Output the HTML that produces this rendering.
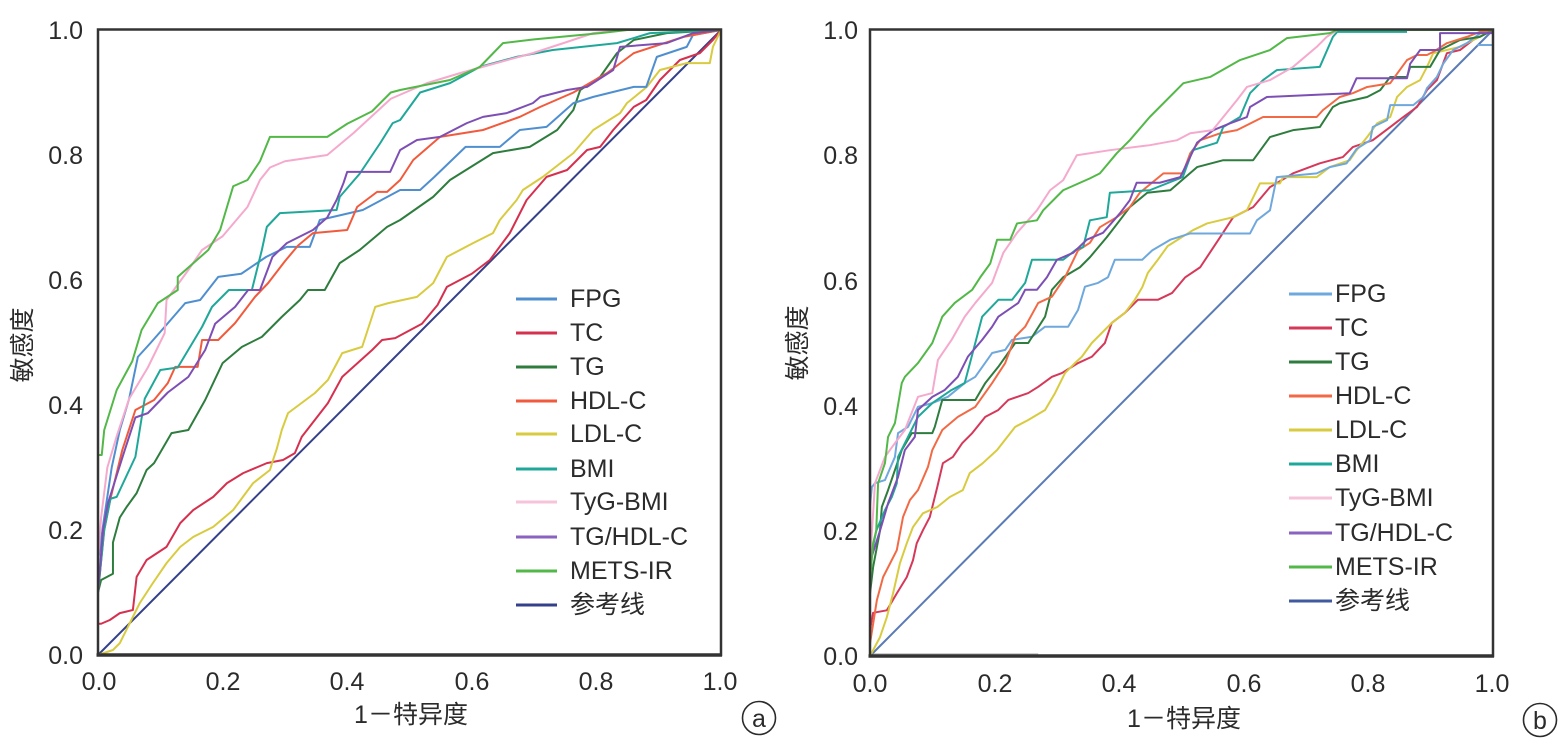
<!DOCTYPE html>
<html>
<head>
<meta charset="utf-8">
<style>
html,body{margin:0;padding:0;background:#fff;}
body{width:1561px;height:748px;overflow:hidden;}
svg{display:block;}
text{font-family:"Liberation Sans","Noto Sans CJK SC",sans-serif;fill:#2b2b2b;}
.c{fill:none;stroke-width:2;stroke-linejoin:round;}
</style>
</head>
<body>
<svg width="1561" height="748" viewBox="0 0 1561 748" xmlns="http://www.w3.org/2000/svg">
<rect x="0" y="0" width="1561" height="748" fill="#fff"/>

<!-- ============ LEFT PANEL ============ -->
<g transform="translate(98,655) scale(623,-625)">
  <polyline class="c" vector-effect="non-scaling-stroke" stroke="#34418a" points="0,0 1,1"/>
  <polyline class="c" vector-effect="non-scaling-stroke" stroke="#d6304f" points="0,0.05 0.005,0.05 0.019,0.056 0.035,0.067 0.056,0.072 0.062,0.125 0.078,0.152 0.11,0.173 0.132,0.211 0.153,0.232 0.185,0.253 0.207,0.275 0.233,0.291 0.271,0.307 0.297,0.312 0.316,0.323 0.327,0.349 0.369,0.403 0.392,0.445 0.44,0.488 0.456,0.504 0.477,0.507 0.52,0.53 0.545,0.56 0.56,0.589 0.6,0.61 0.629,0.632 0.661,0.675 0.688,0.728 0.72,0.765 0.753,0.776 0.785,0.808 0.806,0.813 0.827,0.84 0.86,0.877 0.88,0.888 0.902,0.92 0.934,0.952 0.966,0.963 0.987,0.984 1,1"/>
  <polyline class="c" vector-effect="non-scaling-stroke" stroke="#d9cb3f" points="0,0 0.024,0.008 0.035,0.019 0.051,0.051 0.067,0.083 0.088,0.115 0.11,0.147 0.132,0.173 0.153,0.189 0.185,0.205 0.217,0.232 0.249,0.275 0.276,0.296 0.281,0.312 0.287,0.33 0.295,0.36 0.305,0.387 0.348,0.419 0.369,0.44 0.392,0.483 0.424,0.493 0.445,0.557 0.466,0.563 0.512,0.573 0.538,0.595 0.56,0.637 0.602,0.659 0.634,0.675 0.645,0.696 0.672,0.728 0.682,0.744 0.714,0.765 0.763,0.803 0.795,0.84 0.838,0.867 0.849,0.883 0.881,0.909 0.902,0.936 0.945,0.947 0.982,0.947 0.987,0.973 1,1"/>
  <polyline class="c" vector-effect="non-scaling-stroke" stroke="#2e7d3e" points="0,0.1 0.005,0.12 0.024,0.13 0.024,0.18 0.035,0.22 0.046,0.237 0.062,0.259 0.078,0.296 0.09,0.307 0.118,0.355 0.145,0.36 0.172,0.408 0.2,0.467 0.231,0.493 0.263,0.509 0.295,0.541 0.324,0.568 0.337,0.584 0.364,0.584 0.388,0.627 0.42,0.648 0.464,0.685 0.485,0.696 0.538,0.733 0.565,0.76 0.634,0.803 0.693,0.813 0.737,0.84 0.763,0.872 0.774,0.904 0.806,0.925 0.833,0.963 0.86,0.984 0.913,0.995 1,1"/>
  <polyline class="c" vector-effect="non-scaling-stroke" stroke="#4f8fd0" points="0,0.15 0.01,0.22 0.022,0.30 0.035,0.36 0.05,0.41 0.064,0.477 0.085,0.5 0.107,0.525 0.14,0.563 0.164,0.568 0.193,0.605 0.23,0.61 0.27,0.637 0.303,0.653 0.34,0.653 0.356,0.696 0.425,0.712 0.485,0.744 0.517,0.744 0.54,0.765 0.59,0.813 0.645,0.813 0.677,0.84 0.72,0.845 0.763,0.883 0.795,0.893 0.86,0.909 0.88,0.909 0.897,0.957 0.945,0.973 0.955,0.992 1,1"/>
  <polyline class="c" vector-effect="non-scaling-stroke" stroke="#f15a3c" points="0,0.1 0.01,0.2 0.02,0.25 0.039,0.328 0.06,0.392 0.09,0.408 0.112,0.435 0.124,0.461 0.16,0.461 0.167,0.504 0.193,0.504 0.22,0.531 0.252,0.573 0.273,0.595 0.3,0.63 0.321,0.655 0.345,0.675 0.4,0.68 0.416,0.717 0.448,0.741 0.464,0.741 0.485,0.76 0.506,0.792 0.549,0.829 0.618,0.84 0.677,0.861 0.71,0.877 0.763,0.9 0.817,0.931 0.86,0.963 0.94,0.989 0.983,0.997 1,1"/>
  <polyline class="c" vector-effect="non-scaling-stroke" stroke="#1fa89a" points="0,0.1 0.01,0.2 0.02,0.25 0.03,0.253 0.06,0.317 0.075,0.41 0.1,0.456 0.128,0.46 0.167,0.525 0.183,0.557 0.21,0.584 0.247,0.584 0.263,0.648 0.271,0.685 0.292,0.707 0.383,0.712 0.388,0.733 0.42,0.77 0.453,0.819 0.473,0.851 0.485,0.856 0.517,0.9 0.565,0.915 0.613,0.941 0.672,0.957 0.73,0.968 0.833,0.979 0.886,0.995 1,1"/>
  <polyline class="c" vector-effect="non-scaling-stroke" stroke="#7d4fb5" points="0,0.1 0.008,0.2 0.016,0.243 0.043,0.328 0.06,0.38 0.08,0.387 0.112,0.42 0.145,0.445 0.172,0.488 0.188,0.53 0.22,0.557 0.241,0.584 0.26,0.584 0.28,0.637 0.303,0.659 0.345,0.68 0.368,0.7 0.383,0.728 0.394,0.755 0.4,0.773 0.469,0.773 0.485,0.808 0.512,0.824 0.549,0.829 0.592,0.851 0.618,0.861 0.656,0.867 0.698,0.883 0.71,0.893 0.753,0.904 0.785,0.909 0.827,0.936 0.838,0.973 0.913,0.979 0.955,0.995 1,1"/>
  <polyline class="c" vector-effect="non-scaling-stroke" stroke="#f5a9cd" points="0,0.15 0.005,0.22 0.015,0.3 0.03,0.35 0.05,0.41 0.08,0.46 0.107,0.515 0.11,0.568 0.145,0.616 0.167,0.648 0.2,0.67 0.24,0.717 0.26,0.76 0.276,0.78 0.3,0.79 0.368,0.8 0.41,0.835 0.47,0.89 0.528,0.915 0.581,0.931 0.65,0.95 0.698,0.963 0.75,0.98 0.795,0.995 0.84,1 1,1"/>
  <polyline class="c" vector-effect="non-scaling-stroke" stroke="#52b848" points="0,0.2 0,0.32 0.006,0.32 0.01,0.36 0.03,0.424 0.055,0.47 0.07,0.52 0.096,0.563 0.128,0.584 0.128,0.605 0.177,0.648 0.196,0.68 0.217,0.75 0.24,0.76 0.26,0.79 0.276,0.829 0.368,0.829 0.4,0.85 0.44,0.87 0.47,0.9 0.485,0.904 0.565,0.92 0.613,0.941 0.65,0.979 0.7,0.985 0.806,0.995 0.85,1 1,1"/>
</g>
<!-- frame left -->
<rect x="98" y="29.5" width="623" height="625.5" fill="none" stroke="#333" stroke-width="2.5"/>
<line x1="96.5" y1="655" x2="722" y2="655" stroke="#333" stroke-width="3.5"/>

<!-- left y ticks -->
<g font-size="25" text-anchor="end">
  <text x="83" y="39">1.0</text>
  <text x="83" y="164">0.8</text>
  <text x="83" y="289">0.6</text>
  <text x="83" y="414">0.4</text>
  <text x="83" y="539">0.2</text>
  <text x="83" y="664">0.0</text>
</g>
<!-- left x ticks -->
<g font-size="25" text-anchor="middle">
  <text x="99" y="690">0.0</text>
  <text x="223" y="690">0.2</text>
  <text x="347" y="690">0.4</text>
  <text x="472" y="690">0.6</text>
  <text x="596" y="690">0.8</text>
  <text x="720" y="690">1.0</text>
</g>
<text x="411" y="723" font-size="25" text-anchor="middle">1－特异度</text>
<text transform="translate(31,345) rotate(-90)" font-size="25" text-anchor="middle">敏感度</text>

<!-- left legend -->
<g stroke-width="3">
  <line x1="516" y1="299" x2="557" y2="299" stroke="#4f8fd0"/>
  <line x1="516" y1="333" x2="557" y2="333" stroke="#d6304f"/>
  <line x1="516" y1="367" x2="557" y2="367" stroke="#2e7d3e"/>
  <line x1="516" y1="401" x2="557" y2="401" stroke="#f15a3c"/>
  <line x1="516" y1="434" x2="557" y2="434" stroke="#d9cb3f"/>
  <line x1="516" y1="469" x2="557" y2="469" stroke="#1fa89a"/>
  <line x1="516" y1="502" x2="557" y2="502" stroke="#f5c3da"/>
  <line x1="516" y1="537" x2="557" y2="537" stroke="#8a62c0"/>
  <line x1="516" y1="571" x2="557" y2="571" stroke="#52b848"/>
  <line x1="516" y1="605" x2="557" y2="605" stroke="#34418a"/>
</g>
<g font-size="25">
  <text x="570" y="307">FPG</text>
  <text x="570" y="341">TC</text>
  <text x="570" y="375">TG</text>
  <text x="570" y="409">HDL-C</text>
  <text x="570" y="442">LDL-C</text>
  <text x="570" y="477">BMI</text>
  <text x="570" y="510">TyG-BMI</text>
  <text x="570" y="545">TG/HDL-C</text>
  <text x="570" y="579">METS-IR</text>
  <text x="570" y="613">参考线</text>
</g>
<circle cx="759" cy="718" r="16.5" fill="none" stroke="#2b2b2b" stroke-width="1.6"/>
<text x="759" y="727" font-size="25" text-anchor="middle">a</text>

<!-- ============ RIGHT PANEL ============ -->
<g transform="translate(870,656) scale(623,-626)">
  <polyline class="c" vector-effect="non-scaling-stroke" stroke="#c8c8c8" points="0,0.003 0.27,0.003"/>
  <polyline class="c" vector-effect="non-scaling-stroke" stroke="#5a7bb5" points="0,0 1,1"/>
  <polyline class="c" vector-effect="non-scaling-stroke" stroke="#d6385a" points="0,0.02 0,0.042 0.005,0.069 0.027,0.073 0.043,0.1 0.059,0.126 0.069,0.153 0.075,0.18 0.085,0.201 0.096,0.222 0.108,0.27 0.117,0.308 0.133,0.318 0.148,0.34 0.164,0.356 0.185,0.382 0.206,0.393 0.222,0.409 0.254,0.42 0.27,0.43 0.292,0.446 0.308,0.452 0.334,0.468 0.356,0.478 0.377,0.5 0.388,0.532 0.409,0.548 0.43,0.569 0.462,0.569 0.485,0.58 0.506,0.605 0.53,0.621 0.562,0.669 0.583,0.701 0.615,0.717 0.642,0.749 0.679,0.771 0.722,0.787 0.759,0.797 0.775,0.813 0.807,0.824 0.835,0.845 0.856,0.861 0.878,0.877 0.894,0.904 0.91,0.92 0.926,0.963 0.947,0.968 0.968,0.984 1,1"/>
  <polyline class="c" vector-effect="non-scaling-stroke" stroke="#d9cb3f" points="0,0 0.016,0.03 0.027,0.062 0.037,0.1 0.048,0.148 0.059,0.18 0.069,0.206 0.085,0.228 0.108,0.238 0.128,0.254 0.149,0.265 0.16,0.292 0.181,0.308 0.204,0.329 0.233,0.366 0.254,0.377 0.281,0.393 0.297,0.42 0.313,0.452 0.329,0.468 0.34,0.478 0.356,0.5 0.366,0.51 0.388,0.532 0.409,0.548 0.425,0.569 0.437,0.589 0.446,0.612 0.462,0.633 0.478,0.655 0.518,0.68 0.541,0.691 0.583,0.701 0.605,0.712 0.626,0.755 0.658,0.755 0.663,0.765 0.717,0.765 0.738,0.781 0.77,0.792 0.781,0.808 0.798,0.829 0.814,0.851 0.835,0.861 0.846,0.893 0.862,0.909 0.883,0.92 0.894,0.941 0.904,0.963 0.947,0.973 0.968,0.984 1,1"/>
  <polyline class="c" vector-effect="non-scaling-stroke" stroke="#6fa8dc" points="0,0.24 0.003,0.27 0.008,0.276 0.024,0.281 0.04,0.318 0.045,0.356 0.061,0.366 0.077,0.398 0.1,0.404 0.125,0.414 0.152,0.436 0.169,0.446 0.196,0.484 0.217,0.489 0.228,0.505 0.26,0.51 0.281,0.526 0.318,0.526 0.334,0.553 0.345,0.59 0.366,0.596 0.382,0.605 0.393,0.633 0.437,0.633 0.453,0.648 0.482,0.665 0.514,0.675 0.61,0.675 0.621,0.696 0.642,0.712 0.653,0.765 0.717,0.771 0.738,0.781 0.765,0.787 0.781,0.81 0.803,0.824 0.807,0.845 0.83,0.856 0.835,0.88 0.872,0.88 0.888,0.893 0.894,0.907 0.91,0.925 0.92,0.946 0.936,0.968 0.958,0.979 0.98,0.995 1,1"/>
  <polyline class="c" vector-effect="non-scaling-stroke" stroke="#6fa8dc" points="0.975,0.976 1,0.976"/>
  <polyline class="c" vector-effect="non-scaling-stroke" stroke="#2e7d3e" points="0,0.1 0.005,0.142 0.016,0.2 0.019,0.238 0.029,0.265 0.04,0.297 0.051,0.329 0.067,0.356 0.1,0.356 0.104,0.366 0.116,0.409 0.169,0.409 0.185,0.436 0.206,0.462 0.233,0.5 0.254,0.5 0.281,0.542 0.292,0.585 0.31,0.605 0.337,0.621 0.353,0.637 0.38,0.669 0.401,0.696 0.417,0.717 0.445,0.74 0.482,0.744 0.525,0.781 0.567,0.792 0.615,0.792 0.642,0.829 0.679,0.84 0.722,0.845 0.743,0.877 0.754,0.883 0.798,0.893 0.819,0.904 0.835,0.925 0.862,0.925 0.867,0.941 0.899,0.941 0.915,0.968 0.947,0.984 0.979,0.989 1,1"/>
  <polyline class="c" vector-effect="non-scaling-stroke" stroke="#f26a45" points="0,0.02 0.011,0.089 0.021,0.126 0.043,0.169 0.053,0.222 0.064,0.249 0.077,0.265 0.093,0.302 0.1,0.329 0.116,0.361 0.141,0.382 0.169,0.398 0.196,0.436 0.217,0.468 0.233,0.51 0.249,0.526 0.27,0.564 0.292,0.574 0.313,0.605 0.334,0.648 0.353,0.66 0.369,0.685 0.396,0.701 0.417,0.717 0.433,0.74 0.471,0.771 0.502,0.771 0.514,0.803 0.53,0.824 0.562,0.835 0.589,0.84 0.631,0.861 0.717,0.861 0.727,0.872 0.754,0.893 0.775,0.899 0.798,0.909 0.835,0.915 0.862,0.952 0.878,0.96 0.894,0.96 0.904,0.965 0.926,0.979 0.958,0.989 0.979,0.997 1,1"/>
  <polyline class="c" vector-effect="non-scaling-stroke" stroke="#1fa89a" points="0,0.15 0.01,0.2 0.024,0.233 0.035,0.254 0.043,0.276 0.045,0.318 0.061,0.35 0.077,0.382 0.1,0.404 0.131,0.425 0.152,0.436 0.169,0.5 0.18,0.542 0.206,0.569 0.228,0.569 0.249,0.596 0.26,0.633 0.31,0.633 0.332,0.65 0.342,0.653 0.353,0.696 0.38,0.701 0.385,0.74 0.449,0.744 0.502,0.765 0.518,0.808 0.557,0.82 0.567,0.845 0.594,0.861 0.61,0.899 0.631,0.92 0.653,0.936 0.722,0.941 0.743,0.989 0.75,0.997 0.862,0.997"/>
  <polyline class="c" vector-effect="non-scaling-stroke" stroke="#7d4fb5" points="0,0.15 0.016,0.2 0.029,0.244 0.045,0.286 0.056,0.329 0.072,0.35 0.077,0.393 0.1,0.414 0.12,0.425 0.141,0.446 0.157,0.478 0.18,0.505 0.196,0.526 0.206,0.542 0.238,0.564 0.249,0.585 0.268,0.585 0.284,0.605 0.3,0.633 0.326,0.644 0.348,0.665 0.374,0.676 0.401,0.707 0.417,0.728 0.428,0.756 0.465,0.756 0.498,0.765 0.525,0.82 0.551,0.84 0.578,0.851 0.605,0.861 0.61,0.877 0.637,0.893 0.77,0.899 0.781,0.923 0.862,0.923 0.867,0.946 0.883,0.968 0.915,0.968 0.915,0.995 1,0.995 1,1"/>
  <polyline class="c" vector-effect="non-scaling-stroke" stroke="#f5a9cd" points="0,0.15 0.008,0.276 0.024,0.318 0.04,0.34 0.056,0.361 0.077,0.414 0.1,0.42 0.109,0.473 0.131,0.505 0.152,0.542 0.169,0.564 0.196,0.596 0.214,0.644 0.236,0.676 0.268,0.712 0.289,0.744 0.31,0.76 0.332,0.8 0.385,0.808 0.449,0.816 0.493,0.824 0.514,0.835 0.55,0.84 0.589,0.888 0.605,0.909 0.642,0.92 0.679,0.941 0.717,0.973 0.733,0.989 0.75,1 1,1"/>
  <polyline class="c" vector-effect="non-scaling-stroke" stroke="#52b848" points="0,0.12 0.005,0.18 0.01,0.2 0.013,0.276 0.024,0.308 0.029,0.35 0.04,0.372 0.051,0.436 0.056,0.446 0.077,0.468 0.1,0.5 0.116,0.542 0.136,0.564 0.164,0.585 0.177,0.605 0.193,0.627 0.204,0.665 0.225,0.665 0.236,0.691 0.268,0.696 0.278,0.712 0.31,0.744 0.353,0.763 0.369,0.771 0.396,0.803 0.417,0.824 0.449,0.861 0.503,0.915 0.546,0.925 0.594,0.952 0.642,0.968 0.669,0.987 0.738,0.995 0.75,1 1,1"/>
</g>
<!-- frame right -->
<rect x="870" y="29.5" width="623" height="626.5" fill="none" stroke="#333" stroke-width="2.5"/>
<line x1="868.5" y1="656" x2="1494" y2="656" stroke="#333" stroke-width="3.5"/>

<!-- right y ticks -->
<g font-size="25" text-anchor="end">
  <text x="858" y="39">1.0</text>
  <text x="858" y="164">0.8</text>
  <text x="858" y="290">0.6</text>
  <text x="858" y="415">0.4</text>
  <text x="858" y="540">0.2</text>
  <text x="858" y="665">0.0</text>
</g>
<g font-size="25" text-anchor="middle">
  <text x="870" y="692">0.0</text>
  <text x="995" y="692">0.2</text>
  <text x="1119" y="692">0.4</text>
  <text x="1244" y="692">0.6</text>
  <text x="1368" y="692">0.8</text>
  <text x="1492" y="692">1.0</text>
</g>
<text x="1184" y="727" font-size="25" text-anchor="middle">1－特异度</text>
<text transform="translate(806,343) rotate(-90)" font-size="25" text-anchor="middle">敏感度</text>

<!-- right legend -->
<g stroke-width="3">
  <line x1="1289" y1="294" x2="1332" y2="294" stroke="#6fa8dc"/>
  <line x1="1289" y1="328" x2="1332" y2="328" stroke="#d6385a"/>
  <line x1="1289" y1="362" x2="1332" y2="362" stroke="#2e7d3e"/>
  <line x1="1289" y1="396" x2="1332" y2="396" stroke="#f26a45"/>
  <line x1="1289" y1="430" x2="1332" y2="430" stroke="#d9cb3f"/>
  <line x1="1289" y1="464" x2="1332" y2="464" stroke="#1fa89a"/>
  <line x1="1289" y1="498" x2="1332" y2="498" stroke="#f5c3da"/>
  <line x1="1289" y1="533" x2="1332" y2="533" stroke="#8a62c0"/>
  <line x1="1289" y1="567" x2="1332" y2="567" stroke="#52b848"/>
  <line x1="1289" y1="601" x2="1332" y2="601" stroke="#3f5a9e"/>
</g>
<g font-size="25">
  <text x="1335" y="302">FPG</text>
  <text x="1335" y="336">TC</text>
  <text x="1335" y="370">TG</text>
  <text x="1335" y="404">HDL-C</text>
  <text x="1335" y="438">LDL-C</text>
  <text x="1335" y="472">BMI</text>
  <text x="1335" y="506">TyG-BMI</text>
  <text x="1335" y="541">TG/HDL-C</text>
  <text x="1335" y="575">METS-IR</text>
  <text x="1335" y="609">参考线</text>
</g>
<circle cx="1540" cy="720" r="16.5" fill="none" stroke="#2b2b2b" stroke-width="1.6"/>
<text x="1540" y="729" font-size="25" text-anchor="middle">b</text>
</svg>
</body>
</html>
